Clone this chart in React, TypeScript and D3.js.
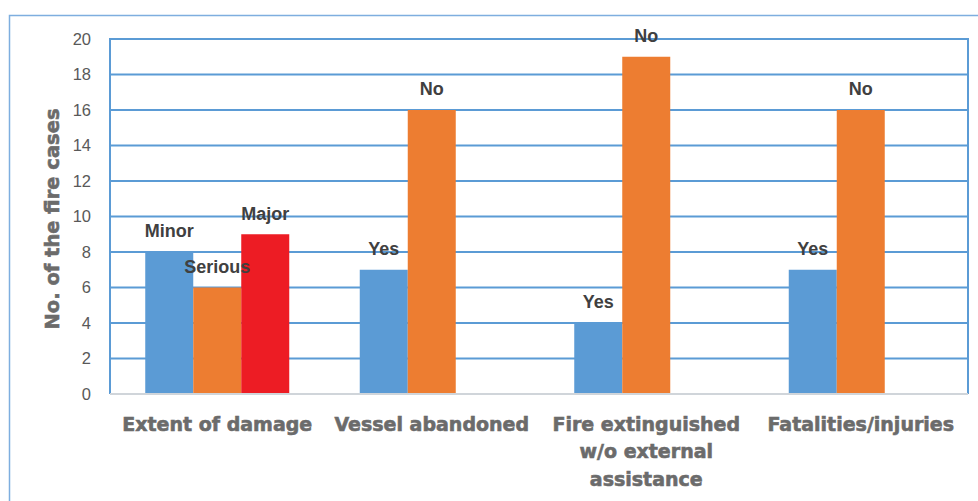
import { useEffect, useRef } from "react";
import * as d3 from "d3";

const categories = [
  ["Extent of damage"],
  ["Vessel abandoned"],
  ["Fire extinguished", "w/o external", "assistance"],
  ["Fatalities/injuries"],
];
const barLabels = [
  ["Minor", "Serious", "Major"],
  ["Yes", "No"],
  ["Yes", "No"],
  ["Yes", "No"],
];
const barValues = [
  [8, 6, 9],
  [7, 16],
  [4, 19],
  [7, 16],
];
const barColors = [
  ["#5B9BD5", "#ED7D31", "#ED1C24"],
  ["#5B9BD5", "#ED7D31"],
  ["#5B9BD5", "#ED7D31"],
  ["#5B9BD5", "#ED7D31"],
];
const yTicks = [0, 2, 4, 6, 8, 10, 12, 14, 16, 18, 20];

export default function App() {
  const svgRef = useRef<SVGSVGElement>(null);
  const width = 978;
  const height = 501;

  useEffect(() => {
    const svg = d3.select(svgRef.current);
    svg.selectAll("*").remove();

    const left = 110;
    const right = 968;
    const top = 39;
    const bottom = 394;
    const barW = 48;
    const slots = 3; // clustered: every group keeps 3 slots

    const x = d3
      .scaleBand<number>()
      .domain(categories.map((_, i) => i))
      .range([left, right]);
    const y = d3.scaleLinear().domain([0, 20]).range([bottom, top]);

    // outer frame
    svg
      .append("path")
      .attr("d", `M9.5,${height} V15.5 H${width}`)
      .attr("fill", "none")
      .attr("stroke", "#7EAEDF")
      .attr("stroke-width", 1.5);

    // gridlines
    svg
      .append("g")
      .selectAll("line")
      .data(yTicks.filter((t) => t > 0))
      .join("line")
      .attr("x1", left)
      .attr("x2", right)
      .attr("y1", (d) => y(d))
      .attr("y2", (d) => y(d))
      .attr("stroke", "#5B9BD5")
      .attr("stroke-width", 2);

    // side lines of plot area
    [left, right].forEach((xx) => {
      svg
        .append("line")
        .attr("x1", xx)
        .attr("x2", xx)
        .attr("y1", top - 1)
        .attr("y2", bottom)
        .attr("stroke", "#5B9BD5")
        .attr("stroke-width", 2);
    });

    // bars
    const groups = svg
      .append("g")
      .selectAll("g")
      .data(barValues)
      .join("g")
      .attr("transform", (d, i) => {
        const c = x(i)! + x.bandwidth() / 2;
        return `translate(${c - (slots * barW) / 2},0)`;
      });

    groups
      .selectAll("rect")
      .data((d, gi) => d.map((v, i) => ({ v, i, gi })))
      .join("rect")
      .attr("x", (d) => d.i * barW)
      .attr("width", barW)
      .attr("y", (d) => y(d.v))
      .attr("height", (d) => bottom - y(d.v))
      .attr("fill", (d) => barColors[d.gi][d.i]);

    groups
      .selectAll("text")
      .data((d, gi) => d.map((v, i) => ({ v, i, gi })))
      .join("text")
      .attr("x", (d) => d.i * barW + barW / 2)
      .attr("y", (d) => y(d.v) - 21)
      .attr("dy", "0.35em")
      .attr("text-anchor", "middle")
      .attr("font-family", "Liberation Sans, Arial, sans-serif")
      .attr("font-weight", "bold")
      .attr("font-size", 18)
      .attr("fill", "#404040")
      .text((d) => barLabels[d.gi][d.i]);

    // x axis line
    svg
      .append("line")
      .attr("x1", left)
      .attr("x2", right)
      .attr("y1", bottom)
      .attr("y2", bottom)
      .attr("stroke", "#D0D5DA")
      .attr("stroke-width", 2);

    // y tick labels
    svg
      .append("g")
      .selectAll("text")
      .data(yTicks)
      .join("text")
      .attr("x", 91)
      .attr("y", (d) => y(d))
      .attr("dy", "0.35em")
      .attr("text-anchor", "end")
      .attr("font-family", "Liberation Sans, Arial, sans-serif")
      .attr("font-size", 16.5)
      .attr("fill", "#595959")
      .text((d) => d);

    // category labels
    categories.forEach((lines, i) => {
      const t = svg
        .append("text")
        .attr("text-anchor", "middle")
        .attr("font-family", "DejaVu Sans, sans-serif")
        .attr("font-weight", "bold")
        .attr("font-size", 19)
        .attr("fill", "#6B6B6B")
        .attr("stroke", "#6B6B6B")
        .attr("stroke-width", 0.6);
      t.selectAll("tspan")
        .data(lines)
        .join("tspan")
        .attr("x", x(i)! + x.bandwidth() / 2)
        .attr("y", (d, k) => 424 + k * 27.5)
        .attr("dy", "0.35em")
        .text((d) => d);
    });

    // y axis title
    svg
      .append("text")
      .attr("transform", `translate(52,219) rotate(-90)`)
      .attr("text-anchor", "middle")
      .attr("dy", "0.35em")
      .attr("font-family", "DejaVu Sans, sans-serif")
      .attr("font-weight", "bold")
      .attr("font-size", 19.5)
      .attr("fill", "#6B6B6B")
      .attr("stroke", "#6B6B6B")
      .attr("stroke-width", 0.6)
      .text("No. of the fire cases");
  }, []);

  return (
    <svg
      ref={svgRef}
      width={width}
      height={height}
      style={{ position: "absolute", left: 0, top: 0, background: "#fff" }}
    ></svg>
  );
}
